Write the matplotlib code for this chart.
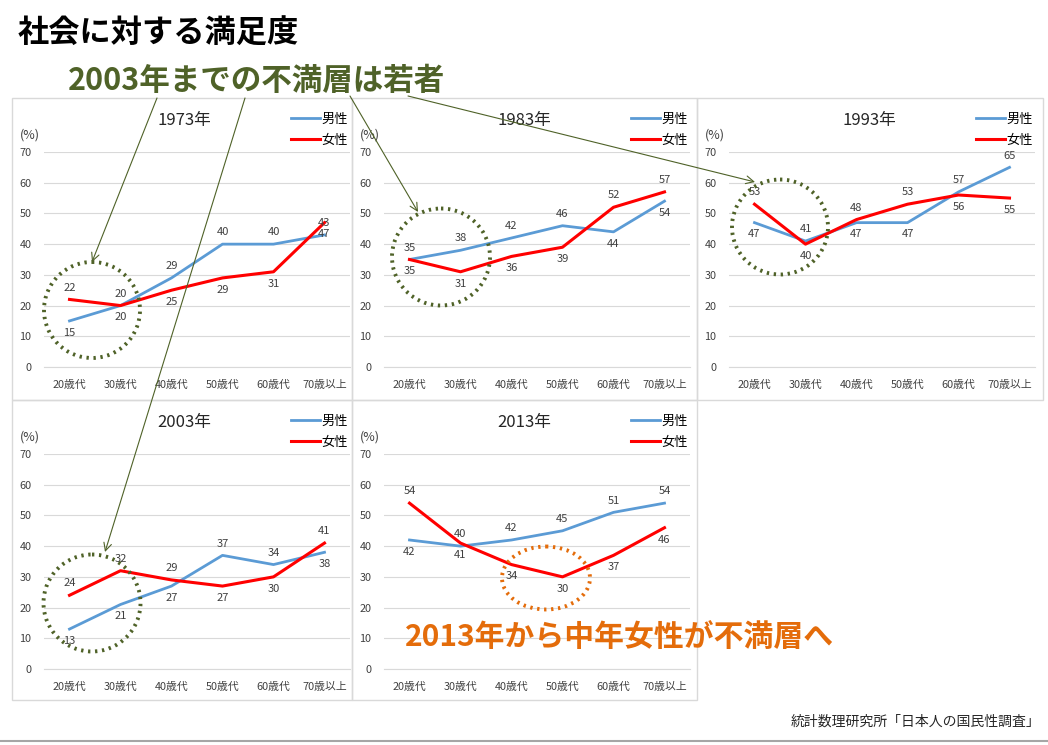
import matplotlib
matplotlib.use("Agg")
import matplotlib.pyplot as plt
from matplotlib.patches import Rectangle, Ellipse

plt.rcParams['font.family'] = ['Noto Sans CJK JP', 'DejaVu Sans']

ages = ['20歳代', '30歳代', '40歳代', '50歳代', '60歳代', '70歳以上']
years = ['1973年', '1983年', '1993年', '2003年', '2013年']

male_1973 = [15, 20, 29, 40, 40, 43]
female_1973 = [22, 20, 25, 29, 31, 47]
male_1983 = [35, 38, 42, 46, 44, 54]
female_1983 = [35, 31, 36, 39, 52, 57]
male_1993 = [47, 41, 47, 47, 57, 65]
female_1993 = [53, 40, 48, 53, 56, 55]
male_2003 = [13, 21, 27, 37, 34, 38]
female_2003 = [24, 32, 29, 27, 30, 41]
male_2013 = [42, 40, 42, 45, 51, 54]
female_2013 = [54, 41, 34, 30, 37, 46]

males = [male_1973, male_1983, male_1993, male_2003, male_2013]
females = [female_1973, female_1983, female_1993, female_2003, female_2013]

# which side the data label sits on (+1 above, -1 below)
male_side = [[-1, 1, 1, 1, 1, 1],
             [1, 1, 1, 1, -1, -1],
             [-1, 1, -1, -1, 1, 1],
             [-1, -1, -1, 1, 1, -1],
             [-1, 1, 1, 1, 1, 1]]
female_side = [[1, -1, -1, -1, -1, -1],
               [-1, -1, -1, -1, 1, 1],
               [1, -1, 1, 1, -1, -1],
               [1, 1, 1, -1, -1, 1],
               [1, -1, -1, -1, -1, -1]]

W, H = 1048, 745
fig = plt.figure(figsize=(W / 100, H / 100), dpi=100)


def fx(px):
    return px / W


def fy(py):
    return 1 - py / H


# panel boxes in pixels: x, y, width, height
panels = [(12, 98, 340, 302), (352, 98, 345, 302), (697, 98, 346, 302),
          (12, 400, 340, 300), (352, 400, 345, 300)]

x = range(len(ages))
for i, (px0, py0, pw, ph) in enumerate(panels):
    fig.add_artist(Rectangle((fx(px0), fy(py0 + ph)), pw / W, ph / H,
                             transform=fig.transFigure, fill=False,
                             edgecolor='#d9d9d9', lw=1))
    ax = fig.add_axes([fx(px0 + 32), fy(py0 + 269), 306 / W, 215 / H])
    ax.plot(x, males[i], color='#5B9BD5', lw=2.0, label='男性')
    ax.plot(x, females[i], color='#FF0000', lw=2.2, label='女性')
    for j in x:
        ax.annotate(str(males[i][j]), (j, males[i][j]), textcoords='offset points',
                    xytext=(0, 8.5 * male_side[i][j]), ha='center', va='center',
                    fontsize=8, color='#404040', annotation_clip=False)
        ax.annotate(str(females[i][j]), (j, females[i][j]), textcoords='offset points',
                    xytext=(0, 8.5 * female_side[i][j]), ha='center', va='center',
                    fontsize=8, color='#404040', annotation_clip=False)
    ax.set_xlim(-0.5, 5.5)
    ax.set_ylim(0, 70)
    ax.set_yticks(range(0, 71, 10))
    ax.set_xticks(list(x))
    ax.set_xticklabels(ages)
    ax.grid(axis='y', color='#d9d9d9', lw=0.8)
    ax.set_axisbelow(True)
    for s in ['top', 'right', 'left']:
        ax.spines[s].set_visible(False)
    ax.spines['bottom'].set_color('#d9d9d9')
    ax.tick_params(length=0, labelsize=7.8, colors='#404040')
    ax.tick_params(axis='x', pad=9)
    ax.tick_params(axis='y', pad=9)
    ax.patch.set_alpha(0)
    fig.text(fx(px0 + 172), fy(py0 + 23), years[i], ha='center', va='center',
             fontsize=12, color='#262626')
    fig.text(fx(px0 + 18), fy(py0 + 37), '(%)', ha='center', va='center',
             fontsize=9, color='#404040')
    ax.legend(loc='center left', bbox_to_anchor=(fx(px0 + 279), fy(py0 + 32)),
              bbox_transform=fig.transFigure, frameon=False, fontsize=9.5,
              handlelength=2.2, labelspacing=0.6, handletextpad=0.1,
              borderpad=0, borderaxespad=0)

# overlay for headings, circles and arrows (pixel coordinates)
ov = fig.add_axes([0, 0, 1, 1], zorder=10)
ov.set_xlim(0, W)
ov.set_ylim(H, 0)
ov.axis('off')
ov.patch.set_alpha(0)

olive = '#4F6228'
orange = '#E46C0A'

ov.text(18, 34, '社会に対する満足度', fontsize=22.5, fontweight='bold',
        color='black', va='center', ha='left')
ov.text(68, 81, '2003年までの不満層は若者', fontsize=22, fontweight='bold',
        color=olive, va='center', ha='left')
ov.text(405, 637, '2013年から中年女性が不満層へ', fontsize=21.5, fontweight='bold',
        color=orange, va='center', ha='left')
ov.text(1040, 722, '統計数理研究所「日本人の国民性調査」', fontsize=10,
        color='#262626', va='center', ha='right')
ov.plot([0, W], [741, 741], color='#a6a6a6', lw=1.5)

circles = [((92, 310), 96, 96, olive), ((441, 257), 98, 97, olive),
           ((780, 227), 96, 95, olive), ((92, 603), 97, 97, olive),
           ((546, 578), 88, 63, orange)]
for (cx, cy), w, h, c in circles:
    ov.add_patch(Ellipse((cx, cy), w, h, fill=False, edgecolor=c, lw=2.8,
                         linestyle=(0, (0.6, 1.2))))

arrows = [((157, 98), (92, 262)), ((245, 98), (105, 552)),
          ((350, 96), (418, 212)), ((408, 96), (755, 182))]
for start, end in arrows:
    ov.annotate('', xy=end, xytext=start,
                arrowprops=dict(arrowstyle='->', color=olive, lw=0.8,
                                mutation_scale=14, shrinkA=0, shrinkB=0))

fig.savefig('out.png', dpi=100)
